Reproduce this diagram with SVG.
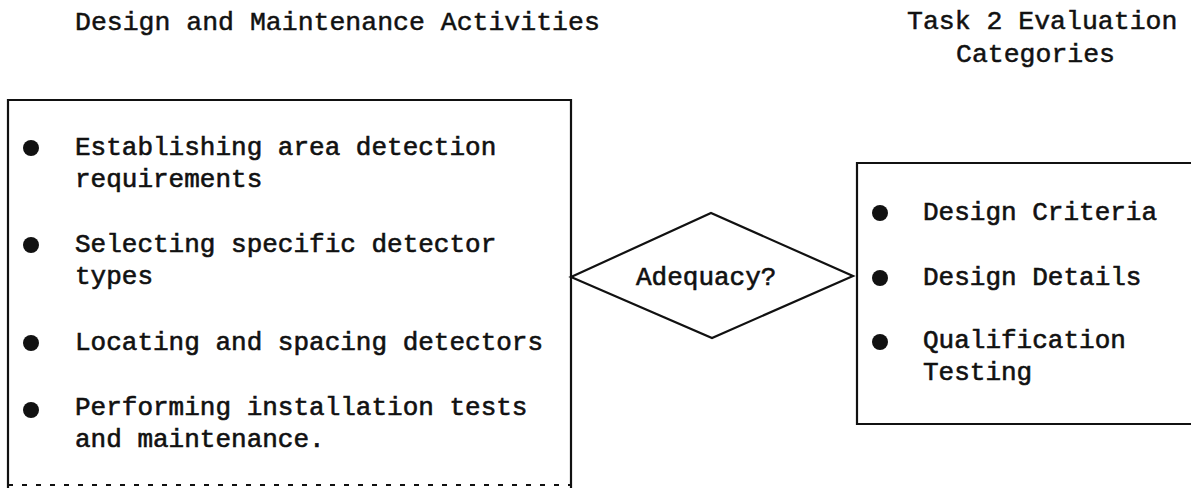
<svg xmlns="http://www.w3.org/2000/svg" width="1191" height="488" viewBox="0 0 1191 488">
<style>
.t{font-family:"Liberation Mono","Courier New",monospace;font-size:26px;fill:#111;stroke:#111;stroke-width:0.6px}
.h{font-family:"Liberation Mono","Courier New",monospace;font-size:26.5px;fill:#111;stroke:#111;stroke-width:0.5px}
.ln{fill:none;stroke:#111;stroke-width:2.2}
.dash{fill:none;stroke:#111;stroke-width:1.8;stroke-dasharray:5 9}
.b{fill:#111}
</style>
<rect width="1191" height="488" fill="#fff"/>
<g id="headings">
<text class="h" x="75" y="30">Design and Maintenance Activities</text>
<text class="h" x="907" y="29">Task 2 Evaluation</text>
<text class="h" x="956" y="62">Categories</text>
</g>
<g id="activities">
<path class="ln" d="M8,488 V100 H571 V488"/>
<path class="dash" d="M8,485 H571"/>
<circle class="b" cx="31" cy="148" r="8"/>
<text class="t" x="75" y="155">Establishing area detection</text>
<text class="t" x="75" y="187">requirements</text>
<circle class="b" cx="31" cy="245" r="8"/>
<text class="t" x="75" y="252">Selecting specific detector</text>
<text class="t" x="75" y="284">types</text>
<circle class="b" cx="31" cy="343" r="8"/>
<text class="t" x="75" y="350">Locating and spacing detectors</text>
<circle class="b" cx="31" cy="410" r="8"/>
<text class="t" x="75" y="415">Performing installation tests</text>
<text class="t" x="75" y="447">and maintenance.</text>
</g>
<g id="adequacy">
<polygon class="ln" points="571,277 711,213 853,276 712,338"/>
<text class="t" x="636" y="285">Adequacy?</text>
</g>
<g id="categories">
<path class="ln" d="M1191,163 H857 V424 H1191"/>
<circle class="b" cx="880" cy="213" r="8"/>
<text class="t" x="923" y="220">Design Criteria</text>
<circle class="b" cx="880" cy="278" r="8"/>
<text class="t" x="923" y="285">Design Details</text>
<circle class="b" cx="880" cy="342" r="8"/>
<text class="t" x="923" y="348">Qualification</text>
<text class="t" x="923" y="380">Testing</text>
</g>
<g id="connectors"></g>
</svg>
